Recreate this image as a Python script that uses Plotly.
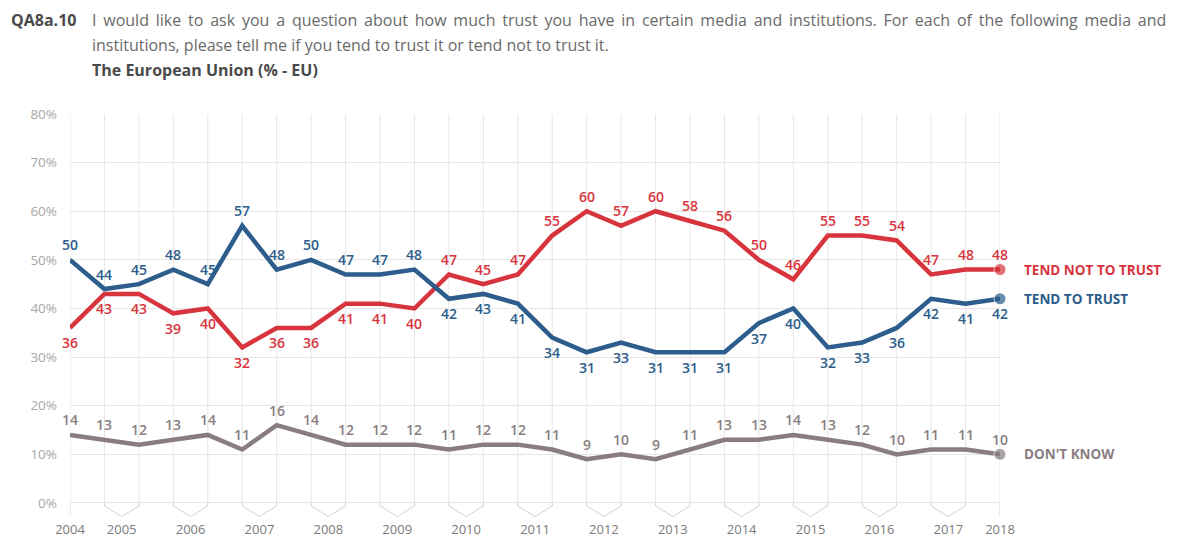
import plotly.graph_objects as go

years = ["2004", "2005", "2006", "2007", "2008", "2009", "2010", "2011", "2012",
         "2013", "2014", "2015", "2016", "2017", "2018"]
# index position (among the 28 survey waves) at which each year label sits
year_pos = [0, 1.5, 3.5, 5.5, 7.5, 9.5, 11.5, 13.5, 15.5, 17.5, 19.5, 21.5, 23.5, 25.5, 27]

tend_to_trust = [50, 44, 45, 48, 45, 57, 48, 50, 47, 47, 48, 42, 43, 41, 34, 31, 33, 31, 31, 31,
                 37, 40, 32, 33, 36, 42, 41, 42]
tend_not_to_trust = [36, 43, 43, 39, 40, 32, 36, 36, 41, 41, 40, 47, 45, 47, 55, 60, 57, 60, 58, 56,
                     50, 46, 55, 55, 54, 47, 48, 48]
dont_know = [14, 13, 12, 13, 14, 11, 16, 14, 12, 12, 12, 11, 12, 12, 11, 9, 10, 9, 11, 13,
             13, 14, 13, 12, 10, 11, 11, 10]

# label placement: +1 above the point, -1 below
trust_side = [1] * 11 + [-1] * 17
not_trust_side = [-1] * 11 + [1] * 17
dk_side = [1] * 28

y_ticks = [0, 10, 20, 30, 40, 50, 60, 70, 80]
y_ticktext = ["0%", "10%", "20%", "30%", "40%", "50%", "60%", "70%", "80%"]

RED = "#d8343d"
BLUE = "#2c5d8c"
GREY = "#8a7d81"
FONT = "Open Sans"

n = len(tend_to_trust)
idx = list(range(n))

W, H = 1191, 539
ML, MR, MT, MB = 70, 191, 114, 19
pw, ph = W - ML - MR, H - MT - MB


def px(xp, yp):
    return (xp - ML) / pw, (H - MB - yp) / ph


fig = go.Figure()

series = [
    ("TEND NOT TO TRUST", tend_not_to_trust, not_trust_side, RED),
    ("TEND TO TRUST", tend_to_trust, trust_side, BLUE),
    ("DON'T KNOW", dont_know, dk_side, GREY),
]

# vertical grid lines per wave
shapes = []
for i in idx:
    shapes.append(dict(type="line", xref="x", yref="y", x0=i, x1=i, y0=0, y1=80,
                       line=dict(color="#e6e6e6", width=1), layer="below"))
# bracket ticks under the axis joining pairs of waves to the year label
for p in year_pos:
    if p == int(p):
        shapes.append(dict(type="line", xref="x", yref="y", x0=p, x1=p, y0=0, y1=-2.6,
                           line=dict(color="#d0d0d0", width=1), layer="below"))
    else:
        a, b = p - 0.5, p + 0.5
        shapes.append(dict(type="path", xref="x", yref="y",
                           path=f"M {a},0 L {a},-0.6 L {p},-2.8 L {b},-0.6 L {b},0",
                           line=dict(color="#d0d0d0", width=1), layer="below"))

annotations = []
for name, vals, side, col in series:
    fig.add_trace(go.Scatter(
        x=idx, y=vals, mode="lines+markers", name=name,
        line=dict(color=col, width=4.5),
        marker=dict(size=[0] * (n - 1) + [12], color=col),
        cliponaxis=False, hoverinfo="skip", showlegend=False))
    for i, v in enumerate(vals):
        annotations.append(dict(x=i, y=v, xref="x", yref="y", text=str(v), showarrow=False,
                                yshift=15 * side[i], xanchor="center", yanchor="middle",
                                font=dict(family=FONT, size=14, color=col, weight=600)))
    annotations.append(dict(x=n - 1, y=vals[-1], xref="x", yref="y", text=name,
                            showarrow=False, xanchor="left", yanchor="middle", xshift=22,
                            font=dict(family=FONT, size=13.5, color=col, weight=700)))

line1 = ("I would like to ask you a question about how much trust you have in certain media "
         "and institutions. For each of the following media and")
line1 = line1.replace(" ", " \u2009")
hdr = [
    (9, 20, "<b>QA8a.10</b>", 16, "#4a4a4a"),
    (90, 20, line1, 16, "#6a6a6a"),
    (90, 45, "institutions, please tell me if you tend to trust it or tend not to trust it.", 16, "#6a6a6a"),
    (90, 70, "<b>The European Union (% - EU)</b>", 16, "#4a4a4a"),
]
for xp, yp, txt, sz, col in hdr:
    x, y = px(xp, yp)
    annotations.append(dict(x=x, y=y, xref="paper", yref="paper", text=txt, showarrow=False,
                            xanchor="left", yanchor="middle",
                            font=dict(family=FONT, size=sz, color=col)))

fig.update_layout(
    width=W, height=H,
    margin=dict(l=ML, r=MR, t=MT, b=MB, autoexpand=False),
    paper_bgcolor="white", plot_bgcolor="white",
    xaxis=dict(range=[0, n - 1], tickvals=year_pos, ticktext=years, showgrid=False,
               zeroline=False, showline=False, ticks="", automargin=False,
               tickfont=dict(family=FONT, size=13, color="#7a7a7a")),
    yaxis=dict(range=[-3.5, 80], tickvals=y_ticks, ticktext=y_ticktext, showgrid=True,
               gridcolor="#e6e6e6", gridwidth=1, zeroline=False, showline=False,
               ticklabelstandoff=12, automargin=False,
               tickfont=dict(family=FONT, size=13.5, color="#a6a6a6")),
    shapes=shapes,
    annotations=annotations,
)

fig.write_html("out.html", config={"displayModeBar": False},
               post_script="document.body.style.margin='0';")
